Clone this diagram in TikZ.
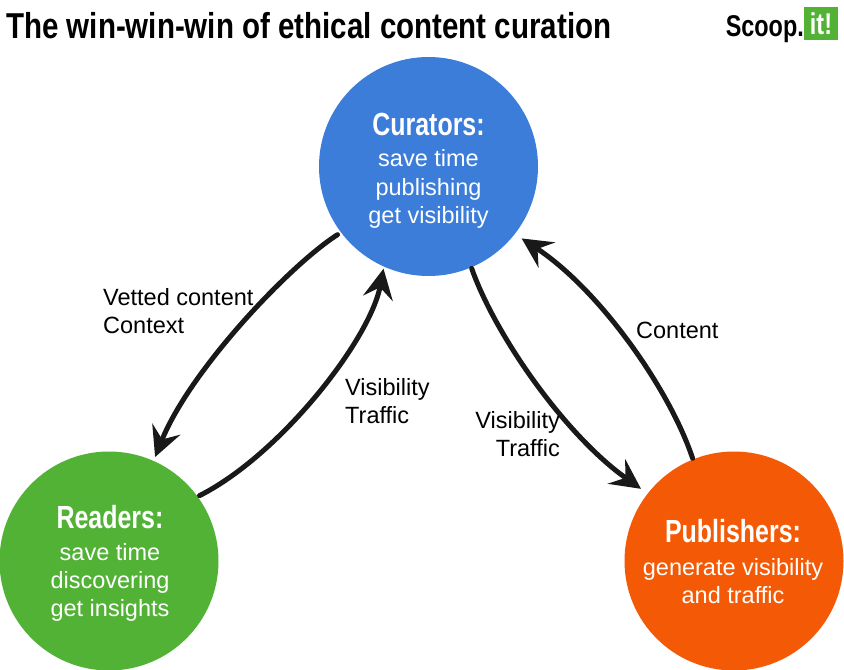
\documentclass[tikz,border=0pt]{standalone}
\usepackage{fontspec}
\setmainfont{Liberation Sans}
\newfontfamily\condfont{Liberation Sans Bold}[FakeStretch=0.78]
\newfontfamily\titlefont{Liberation Sans Bold}[FakeStretch=0.82]
\usetikzlibrary{arrows.meta}
\definecolor{curblue}{HTML}{3B7DD8}
\definecolor{rdgreen}{HTML}{52B236}
\definecolor{puborange}{HTML}{F45A06}
\definecolor{itgreen}{HTML}{52B236}
\tikzset{
  bubble/.style={circle, minimum size=219bp, inner sep=0pt, draw=none},
  headtxt/.style={anchor=base, inner sep=0pt, text=white, font=\condfont\fontsize{32bp}{34bp}\selectfont},
  bodytxt/.style={anchor=base, inner sep=0pt, text=white, font=\fontsize{23.5bp}{28bp}\selectfont},
  lbltxt/.style={inner sep=0pt, text=black, font=\fontsize{23.5bp}{28bp}\selectfont},
  sketcharrow/.style={line width=5bp, black!90, line cap=round,
     -{Stealth[length=30bp,width=30bp,inset=11bp]}}
}
\begin{document}
\begin{tikzpicture}[x=1bp,y=-1bp]
\path[use as bounding box] (0,0) rectangle (844,670);
\fill[white] (0,0) rectangle (844,670);

% title
\node[anchor=base west, inner sep=0pt, font=\titlefont\fontsize{36bp}{38bp}\selectfont] (title) at (6,39) {The win-win-win of ethical content curation};

% logo
\node[anchor=base east, inner sep=0pt, font=\condfont\fontsize{30bp}{32bp}\selectfont] (scoop) at (804,37) {Scoop.};
\node[fill=itgreen, minimum width=34bp, minimum height=33bp, inner sep=0pt, text=white, font=\condfont\fontsize{30bp}{32bp}\selectfont] (itbox) at (821,23.5) {it!};

% circles
\node[bubble, fill=curblue] (cur) at (428.5,166.5) {};
\node[bubble, fill=rdgreen] (rdr) at (109,561) {};
\node[bubble, fill=puborange] (pub) at (734,561) {};

% circle texts
\node[headtxt] (curh) at (428.5,136) {Curators:};
\node[bodytxt] (curb) at (428.5,167) {\begin{tabular}[t]{@{}c@{}}save time\\publishing\\get visibility\end{tabular}};
\node[headtxt] (rdrh) at (110,528) {Readers:};
\node[bodytxt] (rdrb) at (110,560) {\begin{tabular}[t]{@{}c@{}}save time\\discovering\\get insights\end{tabular}};
\node[headtxt] (pubh) at (733,542) {Publishers:};
\node[bodytxt] (pubb) at (733,575) {\begin{tabular}[t]{@{}c@{}}generate visibility\\and traffic\end{tabular}};

% connectors
\draw[sketcharrow, shorten <=4bp, shorten >=4bp] (cur.217.5) .. controls (290,265) and (190,370) .. (rdr.66.6);
\draw[sketcharrow, shorten <=2bp, shorten >=2bp] (rdr.36.7) .. controls (280,455) and (370,340) .. (cur.246.5);
\draw[sketcharrow, shorten <=1bp, shorten >=8bp] (cur.293) .. controls (495,335) and (565,435) .. (pub.142);
\draw[sketcharrow, shorten <=1bp, shorten >=8bp] (pub.112.4) .. controls (670,390) and (600,290) .. (cur.322.6);

% labels
\node[lbltxt, anchor=base west] (lvc) at (103,305) {\begin{tabular}[t]{@{}l@{}}Vetted content\\Context\end{tabular}};
\node[lbltxt, anchor=base west] (lvt1) at (345,395) {\begin{tabular}[t]{@{}l@{}}Visibility\\Traffic\end{tabular}};
\node[lbltxt, anchor=base east] (lvt2) at (560,428) {\begin{tabular}[t]{@{}r@{}}Visibility\\Traffic\end{tabular}};
\node[lbltxt, anchor=base west] (lcont) at (636,338) {Content};
\end{tikzpicture}
\end{document}
